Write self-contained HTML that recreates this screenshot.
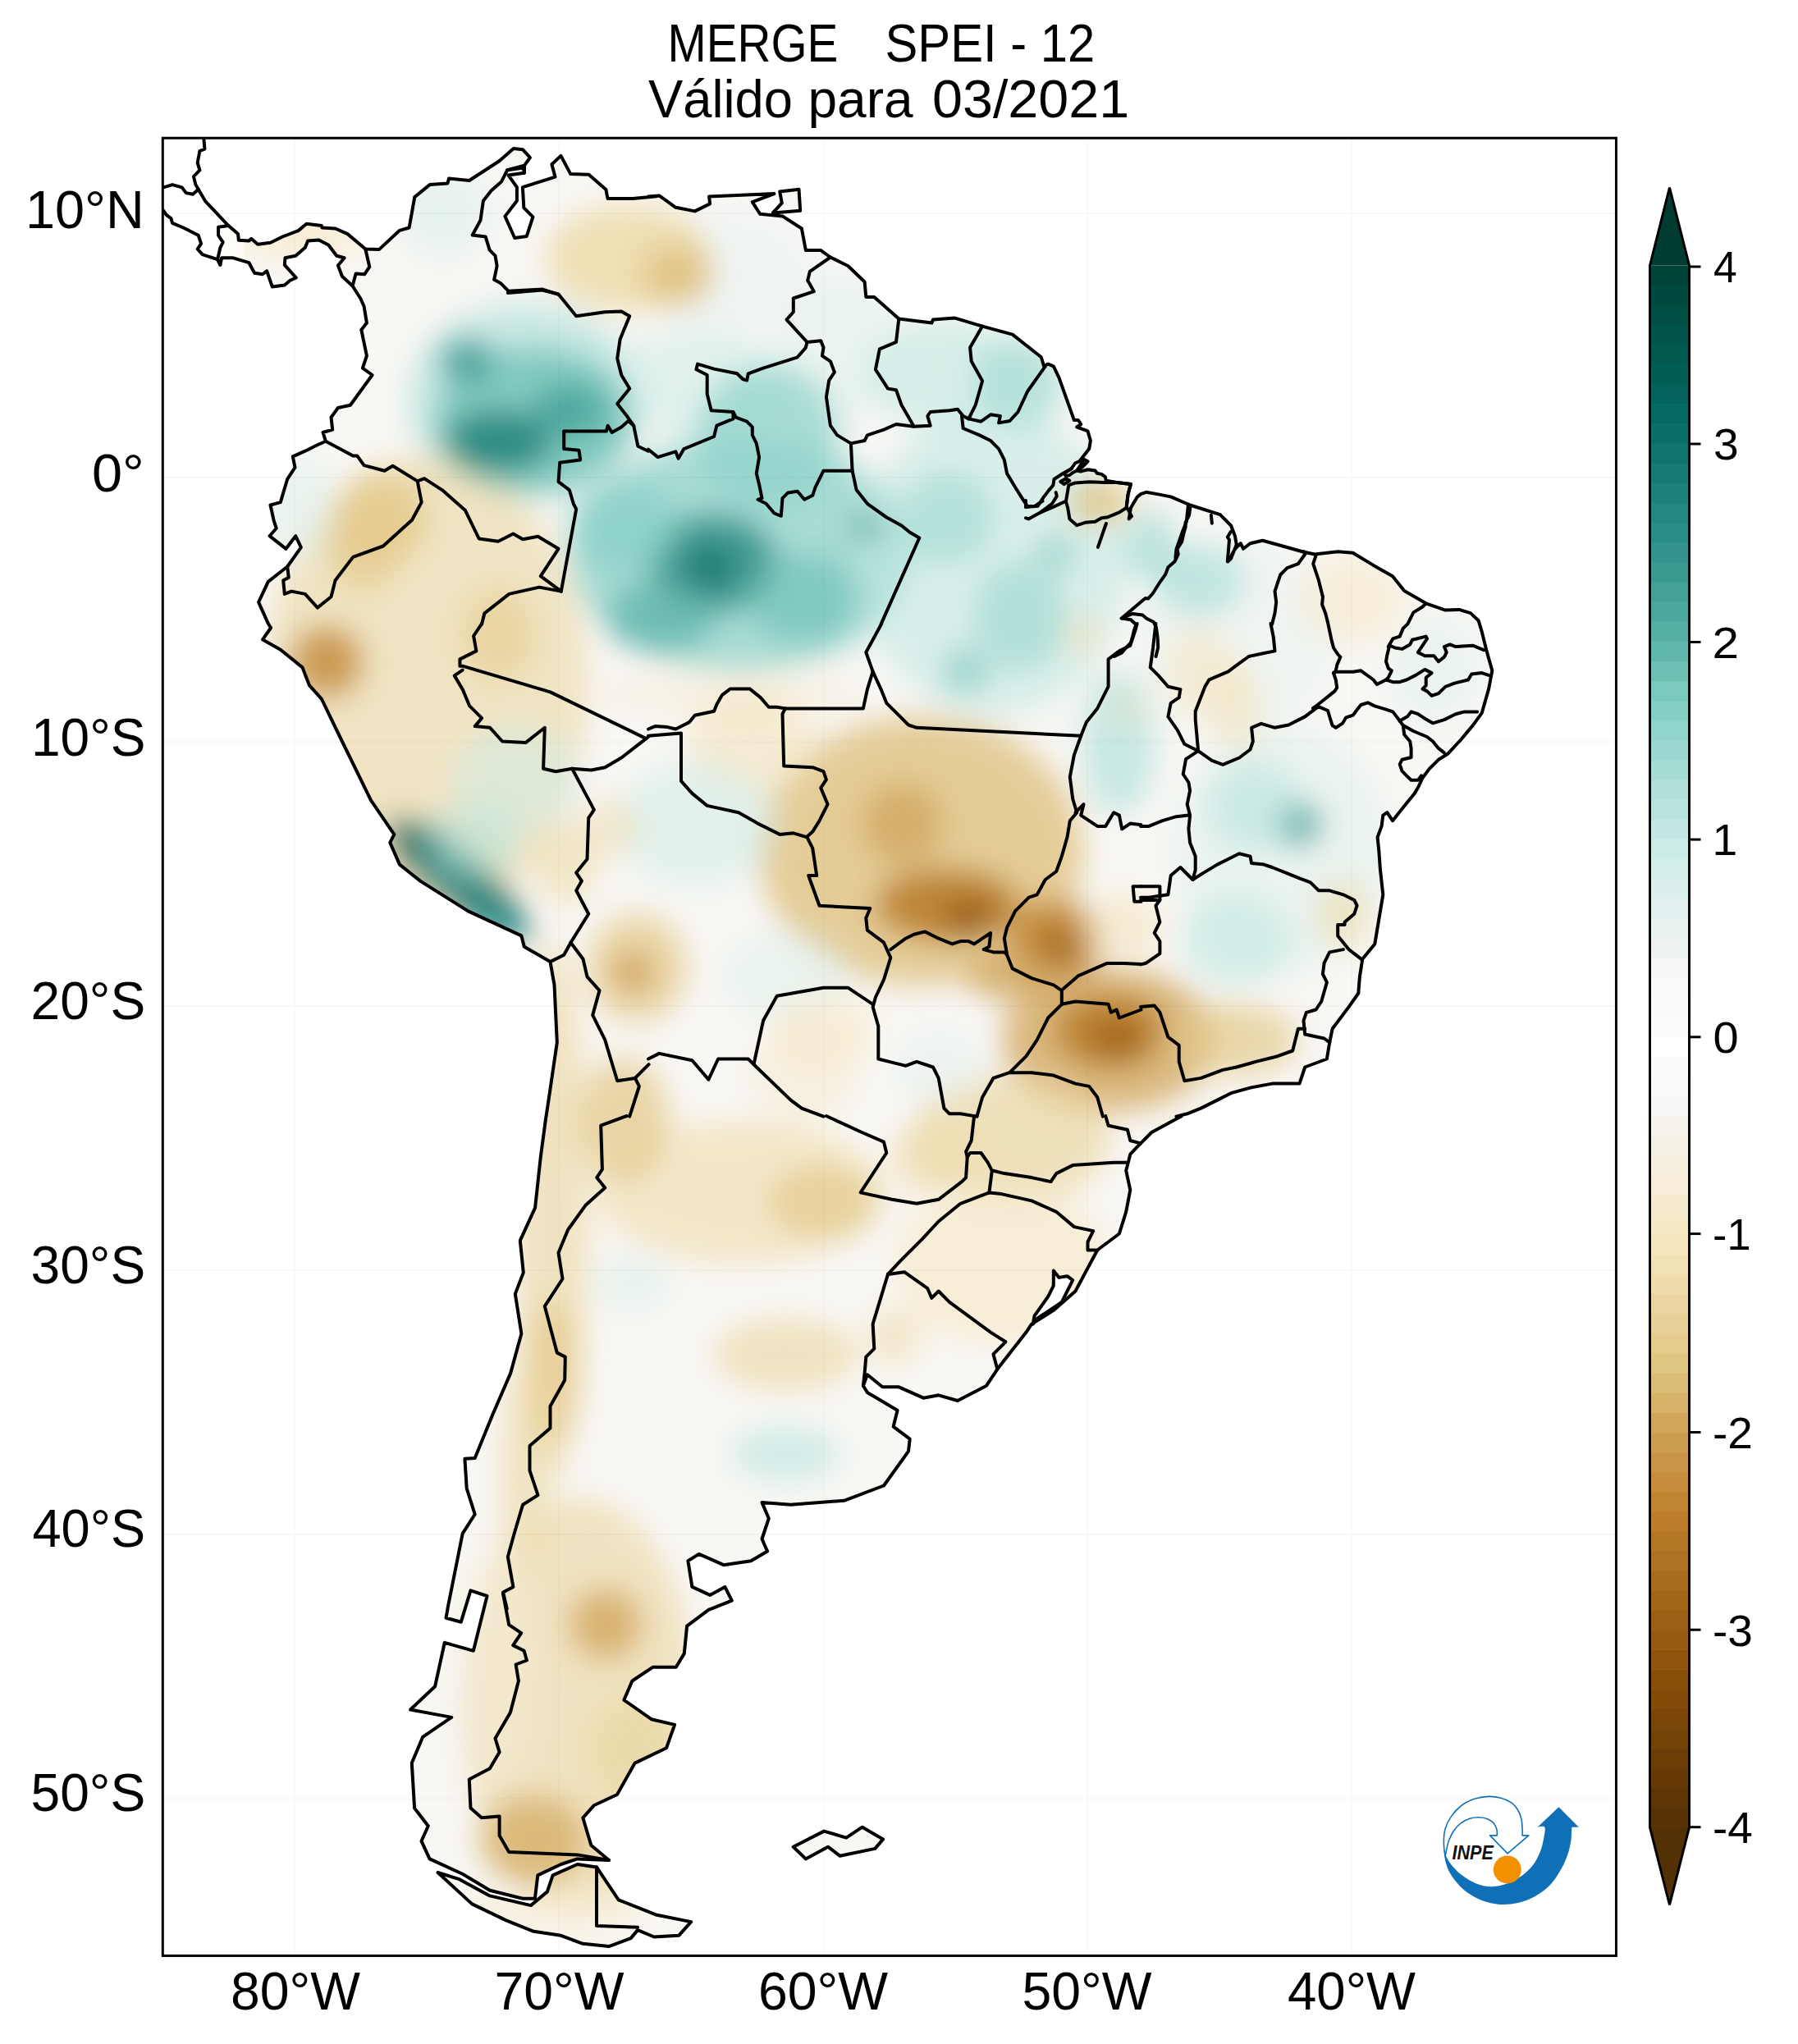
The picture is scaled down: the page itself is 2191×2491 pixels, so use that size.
<!DOCTYPE html><html><head><meta charset="utf-8"><style>
html,body{margin:0;padding:0;background:#fff;}
svg{display:block}
text{font-family:"Liberation Sans",sans-serif;fill:#000}
.ax{font-size:60px}
.ttl{font-size:60px}
.cb{font-size:49px}
.inpe{font-size:24px;font-weight:bold;font-style:italic;fill:#111}
</style></head><body>
<svg width="2191" height="2491" viewBox="0 0 2191 2491">
<defs>
<clipPath id="land"><path d="M197,167 248.4,166.7 248.4,169.3 249.4,181.7 243.4,184 240.7,198.4 243.4,207.4 236,215.1 238.4,225.1 241.7,230.7 250.1,245.1 261.7,257.4 278.4,275.1 290.1,285.1 290.8,292.8 303.4,293.5 306.1,290.8 314.1,297.8 329.5,295.8 344.2,288.5 363.5,281.1 373.5,272.8 391.9,275.1 392.5,277.5 408.6,278.5 423.6,285.1 445.3,303.5 445.3,303.5 461.9,304.1 487,280.8 498.6,277.5 505.3,240.1 523.7,225.1 545.4,223.4 547,217.4 572,220.1 572.2,219.8 608.4,196.2 625.8,180.9 636.9,182.2 645.9,192 639,201.7 639,210.8 619.5,213.5 629.9,228.1 629.9,244.8 615.4,263.6 627.2,290 641.8,287.9 649.4,264.3 638.3,253.2 636.9,228.1 676.5,215.6 672.4,200.3 683.5,189.9 695.3,212.1 717.5,212.8 738.4,230.9 740.5,242 771.1,242 800,239.3 790,239.4 803.3,238.4 823.4,252.8 846.7,257.4 865.1,248.4 864.1,239.4 943.5,236.1 916.8,246.1 926.1,260.8 953.5,263.4 976.9,278.5 981.9,305.1 1000.2,305.1 1011.9,313.5 1033.6,324.2 1053.6,343.5 1055.3,361.9 1065.3,361.9 1095.3,388.6 1135.3,393.6 1137,389.6 1163.7,387.6 1197.1,397.6 1233.8,407.6 1268.8,435.3 1272.1,446.3 1277.2,443.6 1283.8,446.3 1290.5,460.3 1308.9,512 1313.9,512 1317.2,517 1312.2,520.4 1325.5,525.4 1328.9,537 1327.2,547.1 1315.5,562.1 1310.1,564.5 1305.6,571.2 1296.7,576.8 1298.9,580.1 1303.4,579 1307.8,575.7 1312.3,573.4 1316.7,574.5 1325.6,572.3 1334.5,573.4 1336.8,576.8 1342.3,577.9 1346.8,581.2 1347.9,585.7 1361.2,587.9 1377.9,590.1 1374.6,602.4 1372.9,617.9 1379,629.1 1375.7,632.4 1377.9,619 1385.7,605.7 1390,602.1 1396.7,599.8 1410,602.1 1426.7,605.4 1450.1,615.5 1486.8,627.1 1500.1,640.5 1505.1,653.8 1506.8,663.8 1500.1,680.5 1496.8,683.9 1505.1,668.8 1511.8,662.2 1515.1,668.8 1523.5,662.2 1538.5,658.8 1556.8,663.8 1586.9,672.2 1601.9,675.5 1630.2,672.2 1648.6,673.8 1673.6,688.9 1697,702.2 1711.2,720 1737.7,735.3 1761.3,743.6 1778,742.9 1791.9,747.1 1801.6,756.2 1805.8,770.1 1811.3,792.3 1818.3,817.3 1814.1,839.6 1805.8,868.8 1794.7,884.1 1780.8,900.8 1764.1,918.8 1752.9,925.8 1741.8,936.9 1733.5,948 1727.9,960 1723.7,966.9 1710.3,983.6 1697,1000.2 1690.3,990.2 1685.3,993.6 1683.6,1006.9 1678.6,1020.3 1680.3,1036.9 1682,1060.3 1685.3,1090.3 1680.3,1120.4 1675.3,1150.4 1660.3,1168.7 1656.9,1190.4 1655.3,1210.5 1643.6,1227.1 1623.6,1253.8 1620.2,1270.5 1616.9,1290.5 1590.2,1300.5 1583.5,1320.6 1550.2,1320.6 1523.5,1325.6 1500.1,1332.2 1483.4,1340.6 1463.4,1350.6 1446.7,1357.3 1433.4,1360.6 1440.1,1360 1403.3,1380 1390,1393.4 1389.9,1393.4 1377.3,1406.7 1372.2,1426.7 1377.3,1450.1 1372.2,1476.8 1363.9,1503.5 1337.2,1523.5 1310.5,1573.5 1283.8,1596.9 1257.1,1613.6 1250.5,1623.6 1215.4,1668.6 1215.4,1668.6 1202.1,1688.7 1167,1707 1143.7,1700.3 1125.3,1703.7 1095.3,1690.3 1075.3,1690.3 1056.9,1675.3 1051.9,1688.7 1056.9,1697 1093.6,1718.7 1088.6,1738.7 1108.7,1753.7 1107,1768.7 1077,1810.5 1028.6,1828.8 963.5,1833.8 928.5,1831.1 936.8,1850.5 928.5,1875.5 935.1,1890.5 915.1,1902.2 881.8,1907.2 851.7,1893.9 838.4,1902.2 843.4,1933.9 865.1,1943.9 883.4,1933.9 891.8,1950.6 866.7,1960.6 863.8,1961.7 837.1,1981.7 833.8,2015.1 823.8,2031.8 795.4,2031.8 770.4,2048.5 760.4,2071.8 793.7,2095.2 822.1,2101.9 812.1,2130.2 773.7,2148.6 752,2187 723.7,2200.3 710.3,2215.3 720.3,2248.7 742,2267 703.6,2265.4 683.6,2272 655.3,2285.4 651.9,2313.7 636.9,2313.7 596.9,2303.7 563.5,2283.7 523.5,2265.4 513.5,2243.7 521.8,2225.3 505.1,2203.6 501.8,2148.6 515.1,2116.9 550.2,2092.9 500.1,2083.5 530.1,2055.2 541.8,2001.8 576.9,2011.8 593.5,1945 573.5,1938.4 561.8,1976.7 543.5,1971.7 545.5,1960.7 545.4,1960.6 563.7,1868.8 578.7,1845.5 568.7,1813.8 566.4,1777.8 578.7,1777.1 600.4,1723.7 622.1,1673.6 635.4,1625.3 627.8,1576.9 637.8,1550.9 633.8,1511.8 652.1,1471.8 658.8,1410.1 665.5,1360 665.5,1360.6 670.5,1327.2 678.8,1270.5 675.5,1200.4 670.5,1172.1 638.8,1153.7 635.4,1140.4 570.4,1110.4 512,1073.6 487,1053.6 475.3,1026.9 480.3,1016.9 451.9,975.2 416.9,903.5 391.9,851.8 376.9,835.1 368.5,813.4 341.8,791.7 320.1,779.4 330.1,765 326.8,760 326.8,759.9 315.1,733.9 326.8,708.9 350.2,690.5 366.8,667.2 360.2,653.2 348.5,668.8 328.5,653.2 336.8,643.8 333.5,633.8 329.5,615.5 341.8,612.1 350.2,583.8 359.5,569.7 356.8,556.4 371.8,549.7 385.2,543 396.9,537.7 393.5,527 405.2,523.7 403.5,508.7 411.9,497 426.9,493.7 453.6,457 441.9,448.6 446.9,433.6 440.3,401.9 446.9,393.6 443.6,373.5 439.6,364.2 429.6,348.5 416.9,336.8 411.9,323.5 419.6,314.2 410.2,311.8 400.2,298.5 388.5,292.5 375.2,293.5 371.8,301.8 360.2,311.8 347.5,314.2 346.8,322.8 360.8,338.5 353.5,341.8 346.8,347.5 331.8,349.5 325.1,330.2 320.1,334.2 310.1,332.8 303.4,320.2 283.4,314.2 270.1,314.2 268.4,322.8 265.1,316.2 246.7,310.2 240.7,303.5 245.1,296.8 241.7,286.8 223.4,277.5 210,271.8 208.4,266.1 202.7,261.8 199.3,256.8 196.7,256.8 197,257Z M533.5,2282 575.2,2320.4 616.9,2340.4 650.3,2353.8 683.6,2358.8 710.3,2368.8 742,2372.1 768.7,2362.1 777.1,2352.1 797.1,2360.5 827.1,2358.8 842.1,2342.1 800.4,2333.8 753.7,2315.4 727,2275.4 703.6,2272 673.6,2285.4 666.9,2305.4 646.9,2322.1 596.9,2310.4 560.2,2290.4Z M950.2,233.4 973.5,230.7 975.2,256.8 941.8,259.4 952.8,247.4Z M966.7,2250.7 1004.1,2231.6 1031.2,2239.6 1050.8,2226.7 1076.1,2241.4 1066.3,2252.9 1023.6,2261.8 1009,2250.7 981.8,2265.4Z"/></clipPath>
<clipPath id="frame"><rect x="198.5" y="168.5" width="1770" height="2214"/></clipPath>
<filter id="bl" x="-20%" y="-20%" width="140%" height="140%"><feGaussianBlur stdDeviation="18"/></filter>
</defs>
<text x="813.50" y="74.8" font-size="64.2" textLength="207.74" lengthAdjust="spacingAndGlyphs" xml:space="preserve">MERGE</text>
<text x="1078.50" y="74.8" font-size="64.2" textLength="255.64" lengthAdjust="spacingAndGlyphs" xml:space="preserve">SPEI - 12</text>
<text x="790.00" y="142.5" font-size="64.2" textLength="176.05" lengthAdjust="spacingAndGlyphs" xml:space="preserve">Válido</text>
<text x="984.50" y="142.5" font-size="64.2" textLength="128.17" lengthAdjust="spacingAndGlyphs" xml:space="preserve">para</text>
<text x="1136.00" y="142.5" font-size="64.2" textLength="240.16" lengthAdjust="spacingAndGlyphs" xml:space="preserve">03/2021</text>
<text x="31.00" y="277.7" font-size="64.2" textLength="144.74" lengthAdjust="spacingAndGlyphs" xml:space="preserve">10°N</text>
<text x="112.00" y="599.4" font-size="64.2" textLength="63.72" lengthAdjust="spacingAndGlyphs" xml:space="preserve">0°</text>
<text x="38.00" y="920.9" font-size="64.2" textLength="139.46" lengthAdjust="spacingAndGlyphs" xml:space="preserve">10°S</text>
<text x="37.50" y="1242.4" font-size="64.2" textLength="139.81" lengthAdjust="spacingAndGlyphs" xml:space="preserve">20°S</text>
<text x="37.50" y="1563.9" font-size="64.2" textLength="139.76" lengthAdjust="spacingAndGlyphs" xml:space="preserve">30°S</text>
<text x="39.50" y="1885.4" font-size="64.2" textLength="137.64" lengthAdjust="spacingAndGlyphs" xml:space="preserve">40°S</text>
<text x="37.50" y="2206.9" font-size="64.2" textLength="139.76" lengthAdjust="spacingAndGlyphs" xml:space="preserve">50°S</text>
<text x="281.00" y="2448.9" font-size="64.2" textLength="158.06" lengthAdjust="spacingAndGlyphs" xml:space="preserve">80°W</text>
<text x="602.50" y="2448.9" font-size="64.2" textLength="158.09" lengthAdjust="spacingAndGlyphs" xml:space="preserve">70°W</text>
<text x="924.00" y="2448.9" font-size="64.2" textLength="158.06" lengthAdjust="spacingAndGlyphs" xml:space="preserve">60°W</text>
<text x="1245.50" y="2448.9" font-size="64.2" textLength="158.06" lengthAdjust="spacingAndGlyphs" xml:space="preserve">50°W</text>
<text x="1569.00" y="2448.9" font-size="64.2" textLength="156.01" lengthAdjust="spacingAndGlyphs" xml:space="preserve">40°W</text>
<text x="2088.00" y="344.3" font-size="53.2" textLength="28.75" lengthAdjust="spacingAndGlyphs" xml:space="preserve">4</text>
<text x="2088.00" y="560.3" font-size="53.2" textLength="30.73" lengthAdjust="spacingAndGlyphs" xml:space="preserve">3</text>
<text x="2086.50" y="801.8" font-size="53.2" textLength="32.55" lengthAdjust="spacingAndGlyphs" xml:space="preserve">2</text>
<text x="2086.50" y="1042.4" font-size="53.2" textLength="30.72" lengthAdjust="spacingAndGlyphs" xml:space="preserve">1</text>
<text x="2087.50" y="1283.1" font-size="53.2" textLength="31.13" lengthAdjust="spacingAndGlyphs" xml:space="preserve">0</text>
<text x="2087.00" y="1522.9" font-size="53.2" textLength="46.42" lengthAdjust="spacingAndGlyphs" xml:space="preserve">-1</text>
<text x="2087.00" y="1764.8" font-size="53.2" textLength="48.96" lengthAdjust="spacingAndGlyphs" xml:space="preserve">-2</text>
<text x="2087.00" y="2005.5" font-size="53.2" textLength="48.96" lengthAdjust="spacingAndGlyphs" xml:space="preserve">-3</text>
<text x="2087.00" y="2246.0" font-size="53.2" textLength="48.85" lengthAdjust="spacingAndGlyphs" xml:space="preserve">-4</text>
<g clip-path="url(#frame)">
<g clip-path="url(#land)">
<rect x="297" y="168" width="1672" height="2215" fill="#f8f7f4"/>
<g filter="url(#bl)">
<ellipse cx="639.4" cy="488.9" rx="142.5" ry="120.6" fill="#acdfd8" fill-opacity="0.6"/>
<ellipse cx="891.6" cy="335.4" rx="98.7" ry="76.7" fill="#e8f2f1" fill-opacity="0.5"/>
<ellipse cx="847.7" cy="466.9" rx="109.6" ry="65.8" fill="#cfece8" fill-opacity="0.55"/>
<ellipse cx="1023.1" cy="423.1" rx="76.7" ry="87.7" fill="#dcefec" fill-opacity="0.5"/>
<ellipse cx="1154.7" cy="456.0" rx="98.7" ry="65.8" fill="#c0e7e1" fill-opacity="0.6"/>
<ellipse cx="935.4" cy="532.7" rx="87.7" ry="87.7" fill="#8fd3c9" fill-opacity="0.75"/>
<ellipse cx="902.5" cy="675.2" rx="208.3" ry="142.5" fill="#8fd3c9" fill-opacity="0.75"/>
<ellipse cx="1209.5" cy="686.2" rx="164.4" ry="186.4" fill="#c0e7e1" fill-opacity="0.55"/>
<ellipse cx="1242.4" cy="466.9" rx="54.8" ry="54.8" fill="#a3dbd3" fill-opacity="0.7"/>
<ellipse cx="518.9" cy="839.6" rx="197.3" ry="285.0" fill="#ead59f" fill-opacity="0.58"/>
<ellipse cx="1121.8" cy="1037.0" rx="197.3" ry="164.4" fill="#ddbe78" fill-opacity="0.75"/>
<ellipse cx="1352.0" cy="1267.2" rx="131.5" ry="87.7" fill="#d0a357" fill-opacity="0.75"/>
<ellipse cx="1231.4" cy="1387.7" rx="120.6" ry="76.7" fill="#ead59f" fill-opacity="0.7"/>
<ellipse cx="1220.4" cy="1541.2" rx="131.5" ry="98.7" fill="#f6e8c5" fill-opacity="0.6"/>
<ellipse cx="672.3" cy="1475.4" rx="43.8" ry="328.9" fill="#eddaa9" fill-opacity="0.7"/>
<ellipse cx="902.5" cy="1453.5" rx="175.4" ry="87.7" fill="#f1dfb2" fill-opacity="0.65"/>
<ellipse cx="705.2" cy="2078.4" rx="142.5" ry="252.1" fill="#eddaa9" fill-opacity="0.7"/>
<ellipse cx="1560.2" cy="1037.0" rx="131.5" ry="153.5" fill="#dcefec" fill-opacity="0.5"/>
<ellipse cx="1505.4" cy="773.9" rx="120.6" ry="120.6" fill="#e2f0ee" fill-opacity="0.4"/>
<ellipse cx="650.4" cy="510.8" rx="120.6" ry="87.7" fill="#71c2b7" fill-opacity="0.8"/>
<ellipse cx="606.6" cy="538.2" rx="65.8" ry="38.4" fill="#1e827a" fill-opacity="0.85"/>
<ellipse cx="568.2" cy="439.5" rx="32.9" ry="27.4" fill="#34968e" fill-opacity="0.8"/>
<ellipse cx="694.3" cy="499.8" rx="43.8" ry="32.9" fill="#3d9d95" fill-opacity="0.75"/>
<ellipse cx="540.8" cy="258.7" rx="54.8" ry="54.8" fill="#d5edea" fill-opacity="0.5"/>
<ellipse cx="765.5" cy="314.6" rx="99.8" ry="64.7" fill="#eddaa9" fill-opacity="0.85"/>
<ellipse cx="825.8" cy="335.4" rx="43.8" ry="38.4" fill="#ddbe78" fill-opacity="0.75"/>
<ellipse cx="365.4" cy="286.1" rx="76.7" ry="27.4" fill="#f6e8c5" fill-opacity="0.7"/>
<ellipse cx="869.6" cy="686.2" rx="76.7" ry="60.3" fill="#2d8f87" fill-opacity="0.85"/>
<ellipse cx="864.2" cy="691.7" rx="27.4" ry="21.9" fill="#02675f" fill-opacity="0.8"/>
<ellipse cx="803.9" cy="751.9" rx="65.8" ry="43.8" fill="#5cb3a9" fill-opacity="0.75"/>
<ellipse cx="1056.0" cy="642.3" rx="16.4" ry="13.2" fill="#1e827a" fill-opacity="0.8"/>
<ellipse cx="979.3" cy="730.0" rx="65.8" ry="54.8" fill="#71c2b7" fill-opacity="0.7"/>
<ellipse cx="760.0" cy="642.3" rx="65.8" ry="54.8" fill="#85cfc4" fill-opacity="0.7"/>
<ellipse cx="606.6" cy="773.9" rx="43.8" ry="54.8" fill="#e7cf95" fill-opacity="0.75"/>
<ellipse cx="891.6" cy="845.1" rx="164.4" ry="27.4" fill="#f6ecd3" fill-opacity="0.5"/>
<ellipse cx="1242.4" cy="751.9" rx="54.8" ry="65.8" fill="#8fd3c9" fill-opacity="0.55"/>
<ellipse cx="1176.6" cy="817.7" rx="27.4" ry="27.4" fill="#71c2b7" fill-opacity="0.6"/>
<ellipse cx="1286.2" cy="675.2" rx="21.9" ry="21.9" fill="#71c2b7" fill-opacity="0.6"/>
<ellipse cx="1154.7" cy="631.4" rx="54.8" ry="54.8" fill="#99d7ce" fill-opacity="0.6"/>
<ellipse cx="1319.1" cy="773.9" rx="21.9" ry="21.9" fill="#f1dfb2" fill-opacity="0.7"/>
<ellipse cx="1339.9" cy="611.6" rx="38.4" ry="25.2" fill="#e1c582" fill-opacity="0.9"/>
<ellipse cx="1461.6" cy="708.1" rx="54.8" ry="43.8" fill="#acdfd8" fill-opacity="0.7"/>
<ellipse cx="1461.6" cy="817.7" rx="43.8" ry="54.8" fill="#f6e8c5" fill-opacity="0.6"/>
<ellipse cx="1505.4" cy="861.6" rx="32.9" ry="54.8" fill="#f4e4bc" fill-opacity="0.6"/>
<ellipse cx="1362.9" cy="905.4" rx="43.8" ry="87.7" fill="#acdfd8" fill-opacity="0.65"/>
<ellipse cx="1373.9" cy="861.6" rx="16.4" ry="16.4" fill="#eddaa9" fill-opacity="0.6"/>
<ellipse cx="1647.9" cy="730.0" rx="65.8" ry="54.8" fill="#f6e8c5" fill-opacity="0.55"/>
<ellipse cx="1401.3" cy="664.3" rx="32.9" ry="43.8" fill="#99d7ce" fill-opacity="0.6"/>
<ellipse cx="1746.6" cy="817.7" rx="54.8" ry="65.8" fill="#dcefec" fill-opacity="0.5"/>
<ellipse cx="1582.2" cy="1004.1" rx="27.4" ry="27.4" fill="#3d9d95" fill-opacity="0.8"/>
<ellipse cx="1527.4" cy="982.2" rx="54.8" ry="54.8" fill="#b6e3dc" fill-opacity="0.6"/>
<ellipse cx="1637.0" cy="1113.7" rx="32.9" ry="43.8" fill="#eddaa9" fill-opacity="0.6"/>
<ellipse cx="1505.4" cy="1146.6" rx="65.8" ry="54.8" fill="#c0e7e1" fill-opacity="0.6"/>
<ellipse cx="1099.8" cy="1004.1" rx="49.3" ry="49.3" fill="#d0a357" fill-opacity="0.7"/>
<ellipse cx="1154.7" cy="1102.7" rx="87.7" ry="43.8" fill="#b77927" fill-opacity="0.85"/>
<ellipse cx="1182.1" cy="1119.2" rx="32.9" ry="21.9" fill="#8d520a" fill-opacity="0.75"/>
<ellipse cx="1286.2" cy="1146.6" rx="54.8" ry="49.3" fill="#be802c" fill-opacity="0.85"/>
<ellipse cx="1291.7" cy="1152.1" rx="21.9" ry="16.4" fill="#854d09" fill-opacity="0.75"/>
<ellipse cx="1231.4" cy="1190.4" rx="54.8" ry="27.4" fill="#d0a357" fill-opacity="0.8"/>
<ellipse cx="1352.0" cy="1256.2" rx="65.8" ry="43.8" fill="#b77927" fill-opacity="0.85"/>
<ellipse cx="1362.9" cy="1267.2" rx="27.4" ry="21.9" fill="#94580f" fill-opacity="0.75"/>
<ellipse cx="1505.4" cy="1267.2" rx="76.7" ry="43.8" fill="#e4ca8c" fill-opacity="0.7"/>
<ellipse cx="913.5" cy="905.4" rx="76.7" ry="65.8" fill="#f4e4bc" fill-opacity="0.6"/>
<ellipse cx="1143.7" cy="1300.0" rx="54.8" ry="43.8" fill="#e2f0ee" fill-opacity="0.5"/>
<ellipse cx="1369.5" cy="1130.1" rx="49.3" ry="43.8" fill="#f4e4bc" fill-opacity="0.55"/>
<ellipse cx="847.7" cy="1004.1" rx="98.7" ry="76.7" fill="#cfece8" fill-opacity="0.55"/>
<ellipse cx="740.3" cy="1008.5" rx="38.4" ry="38.4" fill="#f1dfb2" fill-opacity="0.55"/>
<ellipse cx="776.5" cy="1179.5" rx="60.3" ry="65.8" fill="#e4ca8c" fill-opacity="0.75"/>
<ellipse cx="771.0" cy="1184.9" rx="21.9" ry="21.9" fill="#c38836" fill-opacity="0.75"/>
<ellipse cx="957.3" cy="1190.4" rx="76.7" ry="54.8" fill="#dcefec" fill-opacity="0.5"/>
<ellipse cx="1001.2" cy="1256.2" rx="65.8" ry="43.8" fill="#f6e8c5" fill-opacity="0.6"/>
<ellipse cx="398.3" cy="806.8" rx="43.8" ry="43.8" fill="#c38836" fill-opacity="0.8"/>
<ellipse cx="464.1" cy="631.4" rx="54.8" ry="54.8" fill="#e1c582" fill-opacity="0.75"/>
<ellipse cx="628.5" cy="949.3" rx="76.7" ry="65.8" fill="#cfece8" fill-opacity="0.55"/>
<ellipse cx="557.2" cy="1072.0" rx="109.6" ry="32.9" fill="#177b73" fill-opacity="0.9" transform="rotate(40 557.2 1072.0)"/>
<ellipse cx="513.4" cy="1031.5" rx="30.7" ry="26.3" fill="#016158" fill-opacity="0.85"/>
<ellipse cx="612.0" cy="1119.2" rx="43.8" ry="17.5" fill="#258880" fill-opacity="0.8" transform="rotate(40 612.0 1119.2)"/>
<ellipse cx="573.7" cy="1026.0" rx="60.3" ry="43.8" fill="#b6e3dc" fill-opacity="0.55"/>
<ellipse cx="688.8" cy="1053.4" rx="38.4" ry="49.3" fill="#eddaa9" fill-opacity="0.6"/>
<ellipse cx="365.4" cy="620.4" rx="43.8" ry="65.8" fill="#dcefec" fill-opacity="0.5"/>
<ellipse cx="442.1" cy="664.3" rx="43.8" ry="54.8" fill="#e4ca8c" fill-opacity="0.75"/>
<ellipse cx="760.0" cy="1365.8" rx="54.8" ry="76.7" fill="#e4ca8c" fill-opacity="0.75"/>
<ellipse cx="1001.2" cy="1464.5" rx="65.8" ry="43.8" fill="#e4ca8c" fill-opacity="0.75"/>
<ellipse cx="1132.7" cy="1409.7" rx="43.8" ry="43.8" fill="#eddaa9" fill-opacity="0.7"/>
<ellipse cx="771.0" cy="1563.1" rx="43.8" ry="32.9" fill="#d5edea" fill-opacity="0.5"/>
<ellipse cx="957.3" cy="1650.8" rx="87.7" ry="43.8" fill="#eddaa9" fill-opacity="0.7"/>
<ellipse cx="957.3" cy="1771.4" rx="65.8" ry="32.9" fill="#c0e7e1" fill-opacity="0.7"/>
<ellipse cx="1088.9" cy="1628.9" rx="32.9" ry="32.9" fill="#eddaa9" fill-opacity="0.6"/>
<ellipse cx="672.3" cy="1672.8" rx="32.9" ry="87.7" fill="#e4ca8c" fill-opacity="0.75"/>
<ellipse cx="639.4" cy="1793.3" rx="27.4" ry="131.5" fill="#eddaa9" fill-opacity="0.7"/>
<ellipse cx="606.6" cy="2023.5" rx="43.8" ry="164.4" fill="#f6eeda" fill-opacity="0.5"/>
<ellipse cx="738.1" cy="1979.7" rx="43.8" ry="43.8" fill="#d0a357" fill-opacity="0.75"/>
<ellipse cx="650.4" cy="2242.8" rx="65.8" ry="54.8" fill="#d4ac62" fill-opacity="0.75"/>
<ellipse cx="771.0" cy="2133.2" rx="54.8" ry="65.8" fill="#ead59f" fill-opacity="0.6"/>
<ellipse cx="672.3" cy="2330.5" rx="120.6" ry="27.4" fill="#f6ecd3" fill-opacity="0.6"/>
<ellipse cx="979.3" cy="1311.0" rx="65.8" ry="54.8" fill="#f6eacc" fill-opacity="0.5"/>
</g>
</g>
<path d="M1283.8,1548.5 1290.5,1556.9 1300.5,1555.2 1307.2,1560.2 1293.8,1586.9 1283.8,1593.6 1263.8,1606.9 1258.8,1613.6 1260.5,1603.6 1277.2,1580.2 1283.8,1566.9Z" fill="#fff"/>
<g fill="none" stroke="#000" stroke-width="4" stroke-linejoin="round" stroke-linecap="round">
<path d="M197,167 248.4,166.7 248.4,169.3 249.4,181.7 243.4,184 240.7,198.4 243.4,207.4 236,215.1 238.4,225.1 241.7,230.7 250.1,245.1 261.7,257.4 278.4,275.1 290.1,285.1 290.8,292.8 303.4,293.5 306.1,290.8 314.1,297.8 329.5,295.8 344.2,288.5 363.5,281.1 373.5,272.8 391.9,275.1 392.5,277.5 408.6,278.5 423.6,285.1 445.3,303.5 445.3,303.5 461.9,304.1 487,280.8 498.6,277.5 505.3,240.1 523.7,225.1 545.4,223.4 547,217.4 572,220.1 572.2,219.8 608.4,196.2 625.8,180.9 636.9,182.2 645.9,192 639,201.7 639,210.8 619.5,213.5 629.9,228.1 629.9,244.8 615.4,263.6 627.2,290 641.8,287.9 649.4,264.3 638.3,253.2 636.9,228.1 676.5,215.6 672.4,200.3 683.5,189.9 695.3,212.1 717.5,212.8 738.4,230.9 740.5,242 771.1,242 800,239.3 790,239.4 803.3,238.4 823.4,252.8 846.7,257.4 865.1,248.4 864.1,239.4 943.5,236.1 916.8,246.1 926.1,260.8 953.5,263.4 976.9,278.5 981.9,305.1 1000.2,305.1 1011.9,313.5 1033.6,324.2 1053.6,343.5 1055.3,361.9 1065.3,361.9 1095.3,388.6 1135.3,393.6 1137,389.6 1163.7,387.6 1197.1,397.6 1233.8,407.6 1268.8,435.3 1272.1,446.3 1277.2,443.6 1283.8,446.3 1290.5,460.3 1308.9,512 1313.9,512 1317.2,517 1312.2,520.4 1325.5,525.4 1328.9,537 1327.2,547.1 1315.5,562.1 1310.1,564.5 1305.6,571.2 1296.7,576.8 1298.9,580.1 1303.4,579 1307.8,575.7 1312.3,573.4 1316.7,574.5 1325.6,572.3 1334.5,573.4 1336.8,576.8 1342.3,577.9 1346.8,581.2 1347.9,585.7 1361.2,587.9 1377.9,590.1 1374.6,602.4 1372.9,617.9 1379,629.1 1375.7,632.4 1377.9,619 1385.7,605.7 1390,602.1 1396.7,599.8 1410,602.1 1426.7,605.4 1450.1,615.5 1486.8,627.1 1500.1,640.5 1505.1,653.8 1506.8,663.8 1500.1,680.5 1496.8,683.9 1505.1,668.8 1511.8,662.2 1515.1,668.8 1523.5,662.2 1538.5,658.8 1556.8,663.8 1586.9,672.2 1601.9,675.5 1630.2,672.2 1648.6,673.8 1673.6,688.9 1697,702.2 1711.2,720 1737.7,735.3 1761.3,743.6 1778,742.9 1791.9,747.1 1801.6,756.2 1805.8,770.1 1811.3,792.3 1818.3,817.3 1814.1,839.6 1805.8,868.8 1794.7,884.1 1780.8,900.8 1764.1,918.8 1752.9,925.8 1741.8,936.9 1733.5,948 1727.9,960 1723.7,966.9 1710.3,983.6 1697,1000.2 1690.3,990.2 1685.3,993.6 1683.6,1006.9 1678.6,1020.3 1680.3,1036.9 1682,1060.3 1685.3,1090.3 1680.3,1120.4 1675.3,1150.4 1660.3,1168.7 1656.9,1190.4 1655.3,1210.5 1643.6,1227.1 1623.6,1253.8 1620.2,1270.5 1616.9,1290.5 1590.2,1300.5 1583.5,1320.6 1550.2,1320.6 1523.5,1325.6 1500.1,1332.2 1483.4,1340.6 1463.4,1350.6 1446.7,1357.3 1433.4,1360.6 1440.1,1360 1403.3,1380 1390,1393.4 1389.9,1393.4 1377.3,1406.7 1372.2,1426.7 1377.3,1450.1 1372.2,1476.8 1363.9,1503.5 1337.2,1523.5 1310.5,1573.5 1283.8,1596.9 1257.1,1613.6 1250.5,1623.6 1215.4,1668.6 1215.4,1668.6 1202.1,1688.7 1167,1707 1143.7,1700.3 1125.3,1703.7 1095.3,1690.3 1075.3,1690.3 1056.9,1675.3 1051.9,1688.7 1056.9,1697 1093.6,1718.7 1088.6,1738.7 1108.7,1753.7 1107,1768.7 1077,1810.5 1028.6,1828.8 963.5,1833.8 928.5,1831.1 936.8,1850.5 928.5,1875.5 935.1,1890.5 915.1,1902.2 881.8,1907.2 851.7,1893.9 838.4,1902.2 843.4,1933.9 865.1,1943.9 883.4,1933.9 891.8,1950.6 866.7,1960.6 863.8,1961.7 837.1,1981.7 833.8,2015.1 823.8,2031.8 795.4,2031.8 770.4,2048.5 760.4,2071.8 793.7,2095.2 822.1,2101.9 812.1,2130.2 773.7,2148.6 752,2187 723.7,2200.3 710.3,2215.3 720.3,2248.7 742,2267 703.6,2265.4 683.6,2272 655.3,2285.4 651.9,2313.7 636.9,2313.7 596.9,2303.7 563.5,2283.7 523.5,2265.4 513.5,2243.7 521.8,2225.3 505.1,2203.6 501.8,2148.6 515.1,2116.9 550.2,2092.9 500.1,2083.5 530.1,2055.2 541.8,2001.8 576.9,2011.8 593.5,1945 573.5,1938.4 561.8,1976.7 543.5,1971.7 545.5,1960.7 545.4,1960.6 563.7,1868.8 578.7,1845.5 568.7,1813.8 566.4,1777.8 578.7,1777.1 600.4,1723.7 622.1,1673.6 635.4,1625.3 627.8,1576.9 637.8,1550.9 633.8,1511.8 652.1,1471.8 658.8,1410.1 665.5,1360 665.5,1360.6 670.5,1327.2 678.8,1270.5 675.5,1200.4 670.5,1172.1 638.8,1153.7 635.4,1140.4 570.4,1110.4 512,1073.6 487,1053.6 475.3,1026.9 480.3,1016.9 451.9,975.2 416.9,903.5 391.9,851.8 376.9,835.1 368.5,813.4 341.8,791.7 320.1,779.4 330.1,765 326.8,760 326.8,759.9 315.1,733.9 326.8,708.9 350.2,690.5 366.8,667.2 360.2,653.2 348.5,668.8 328.5,653.2 336.8,643.8 333.5,633.8 329.5,615.5 341.8,612.1 350.2,583.8 359.5,569.7 356.8,556.4 371.8,549.7 385.2,543 396.9,537.7 393.5,527 405.2,523.7 403.5,508.7 411.9,497 426.9,493.7 453.6,457 441.9,448.6 446.9,433.6 440.3,401.9 446.9,393.6 443.6,373.5 439.6,364.2 429.6,348.5 416.9,336.8 411.9,323.5 419.6,314.2 410.2,311.8 400.2,298.5 388.5,292.5 375.2,293.5 371.8,301.8 360.2,311.8 347.5,314.2 346.8,322.8 360.8,338.5 353.5,341.8 346.8,347.5 331.8,349.5 325.1,330.2 320.1,334.2 310.1,332.8 303.4,320.2 283.4,314.2 270.1,314.2 268.4,322.8 265.1,316.2 246.7,310.2 240.7,303.5 245.1,296.8 241.7,286.8 223.4,277.5 210,271.8 208.4,266.1 202.7,261.8 199.3,256.8 196.7,256.8 197,257 197,167"/>
<path d="M533.5,2282 575.2,2320.4 616.9,2340.4 650.3,2353.8 683.6,2358.8 710.3,2368.8 742,2372.1 768.7,2362.1 777.1,2352.1 797.1,2360.5 827.1,2358.8 842.1,2342.1 800.4,2333.8 753.7,2315.4 727,2275.4 703.6,2272 673.6,2285.4 666.9,2305.4 646.9,2322.1 596.9,2310.4 560.2,2290.4 533.5,2282"/>
<path d="M639,201.7 618.1,207.3 637.6,204.5 639,210.8"/>
<path d="M618.1,207.3 611.2,221.2 598.7,232.3 588.9,244.8 585.5,268.5 575.7,286.5 591.7,288.6 596.6,304.6 603.5,311.6 605.6,324.1 602.1,340.8 609.8,344.9 619.5,354.7 661.2,352.6 680.7,358.8"/>
<path d="M618.8,356.9 660.5,353.5 680.5,358.5 702.2,385.2 737.2,380.2 757.2,379.6 767.2,385.2 755.6,413.6 752.2,436.9 757.2,457 767.2,473.6 752.2,492 763.9,507 772.2,518.7 777.3,543.7 789.9,549.7"/>
<path d="M687.2,525.4 738.9,525.4 740.6,518.7 745.6,527 757.2,520.4 765.6,513 772.2,518.7"/>
<path d="M199.3,228.4 210,225.1 221.7,228.4 226.7,235.1 235,236.7 241.7,230.7"/>
<path d="M278.4,275.1 266.1,276.8 266.1,286.8 271.7,295.1 268.4,301.8 265.1,316.2 268.4,322.8"/>
<path d="M445.3,303.5 450.3,325.2 444.3,334.2 433.6,333.5 429.6,348.5"/>
<path d="M396.9,537.7 430.2,555.4 435.2,555.4 443.6,567.1 468.6,573.7 478.6,567.7 508.7,586.4"/>
<path d="M508.7,586.4 517,583.1 538.7,597.1 567,622.1 583.7,656.5 607.1,659.8 625.4,650.5 637.1,657.2 655.5,653.8 680.5,668.8 658.8,702.2 683.8,720.6"/>
<path d="M508.7,586.4 513.7,612.1 502,633.8 466.9,665.5 430.2,678.9 408.6,707.2 403.5,727.2 386.9,740.6 371.8,723.9 355.2,720.6 346.8,723.9 345.2,707.2 351.8,703.9 350.2,690.5"/>
<path d="M687.2,525.4 687.2,547.1 705.5,548.7 707.2,560.4 682.2,563.7 680.5,587.1 693.8,597.1 698.8,613.8 702.2,620.5 683.8,720.6"/>
<path d="M683.8,720.6 657.1,715.6 620.4,723.9 590.4,747.3 587.1,760.6"/>
<path d="M1377.9,590.1 1361.2,587.9 1345.7,587.9 1327.9,587.3 1310.1,588.5 1302.3,591.2 1298.9,611.3 1301.2,619 1303.4,632.4 1312.3,640.2 1322.3,636.8 1334.5,635.7 1342.3,631.3 1350.1,630.2 1363.5,624.6 1372.4,619 1374.6,602.4 1377.9,590.1"/>
<path d="M1347.9,638 1337.9,666.9"/>
<path d="M1305.6,571.2 1295.6,576.8 1284.5,584 1283.4,591.2 1277.8,597.9 1271.1,606.8 1264.5,616.8 1250,617.9"/>
<path d="M1250,610.1 1250,617.9"/>
<path d="M1286.7,600.1 1287.8,604.6 1282.3,613.5 1267.8,624.6 1253.3,632.4 1250,631.3"/>
<path d="M1297.8,611.3 1283.4,617.9 1267.8,624.6"/>
<path d="M1292.3,586.8 1298.9,583.4 1303.4,585.7 1296.7,590.1 1292.3,586.8"/>
<path d="M1312.3,573.4 1321.2,560.1 1325.6,562.3 1319,569 1312.3,573.4"/>
<path d="M1448,614.6 1445.8,635.7 1441.3,646.9 1433.5,669.1 1432.4,680"/>
<path d="M1011.9,313.5 986.9,330.8 984.2,341.8 991.9,355.2 966.8,363.5 966.8,380.2 958.5,389.6 983.5,416.9"/>
<path d="M983.5,416.9 981.9,423.6 971.8,435.3 930.1,448.6 911.8,455.3 910.1,463.6 905.1,462 898.4,455.3 870.1,449.6 850.1,443.6 848.4,450.3 861.7,457 861.7,480.3 866.7,500.3 893.4,502 893.4,510.4 873.4,518.7 870.1,532 833.4,547.1 826.7,558.7 823.4,550.4 801.7,557.1 790,547.7"/>
<path d="M983.5,416.9 1000.2,415.3 1003.5,423.6 1001.9,433.6 1011.9,440.3 1016.9,453.6 1010.2,463.6 1006.9,483.7 1010.2,507 1011.9,518.7 1020.2,530.4 1036.9,540.4"/>
<path d="M1036.9,540.4 1053.6,537 1056.9,530.4 1077,523.7 1092,517 1113.7,519.7 1133.7,518.7 1130.3,507 1133.7,502 1157,500.3 1167,498.7 1173.7,507 1180.4,510.4 1195.4,513.7 1207.1,505.3 1218.8,507 1217.1,515.4 1230.4,513 1240.5,502 1252.1,477 1273.8,446.3"/>
<path d="M1095.3,388.6 1092,416.9 1071.9,425.3 1066.9,450.3 1082,473.6 1092,475.3 1098.6,493.7 1113.7,519.7"/>
<path d="M1197.1,397.6 1182.1,423.6 1183.7,440.3 1197.1,464.3 1188.7,493.7 1180.4,510.4"/>
<path d="M1172,507 1173.7,522 1193.7,530.4 1207.1,537 1217.1,547.1 1223.8,560.4 1227.1,577.1 1237.1,593.8 1245.5,607.1 1252.1,617.1 1260.5,617.1 1270.5,610.5"/>
<path d="M893.4,502 896.8,508.7 910.1,513.7 916.8,520.4 916.8,530.4 921.8,540.4 925.1,557.1 921.8,577.1 925.1,590.4 928.5,607.1 923.5,608.8 933.5,613.8 943.5,625.5 951.8,628.8 953.5,607.1 960.2,600.4 971.8,598.8 980.2,608.8 990.2,603.8 993.5,593.8 1003.5,573.7 1038.6,573.7"/>
<path d="M1036.9,540.4 1038.6,573.7"/>
<path d="M1038.6,573.7 1043.6,597.1 1056.9,613.8 1080.3,630.5 1098.6,640.5 1108.7,648.8 1120.3,655.5 1073.6,760.6"/>
<path d="M1588.5,672.2 1590.2,675.5 1581.9,687.2 1568.5,692.2 1560.2,700.5 1553.5,720.6 1555.2,733.9 1553.5,747.3 1550.2,760.6"/>
<path d="M587.1,760 577.1,775 580.4,793.4 560.4,803.4 560.4,811.7 563.7,811.7 670.5,843.4 787.3,900.1"/>
<path d="M563.7,816.7 553.7,823.4 563.7,840.1 572,860.1 587.1,875.1 578.7,885.1 597.1,886.8 612.1,903.5 640.5,905.1 663.8,886.8 662.1,936.8 677.2,940.2 697.2,936.8"/>
<path d="M697.2,936.8 720.5,938.5 737.2,935.2 757.2,923.5 787.3,900.1 790.6,897.5"/>
<path d="M697.2,936.8 723.9,986.9 717.2,996.9 715.5,1047 702.2,1063.6 708.9,1073.6 702.2,1085.3 717.2,1113.7 695.5,1148.7 687.2,1163.7 670.5,1172.1"/>
<path d="M695.5,1148.7 710.5,1168.7 715.5,1190.4 730.5,1207.1 722.2,1237.1 737.2,1267.2 752.2,1317.2 773.9,1313.9 790.6,1297.2"/>
<path d="M773.9,1313.9 778.9,1323.9 767.2,1360.6"/>
<path d="M1074.3,760 1055.3,795 1063.6,818.4 1056.9,840.1 1051.9,863.4 956.8,863.4"/>
<path d="M1063.6,818.4 1073.6,840.1 1080.3,856.8 1097,873.4 1107,883.5 1117,886.8 1317.2,896.8"/>
<path d="M790,888.5 798.3,885.1 813.4,886.1 823.4,888.5 840.1,880.1 846.7,871.8 870.1,866.8 873.4,858.4 880.1,846.8 890.1,839.4 913.5,839.4 926.8,850.1 936.8,861.8 946.8,861.8 956.8,863.4"/>
<path d="M956.8,863.4 953.5,870.1 955.2,933.5 990.2,935.2 1003.5,940.2 1006.9,950.2 1000.2,960.2 1008.6,980.2 998.5,1000.2 990.2,1013.6 983.5,1019.6"/>
<path d="M790,896.8 830,893.5 830,951.9 843.4,966.9 861.7,981.9 900.1,990.2 923.5,1003.6 950.2,1016.9 966.8,1015.3 983.5,1020.3 990.2,1033.6 995.2,1067 985.2,1067 998.5,1103.7 1060.3,1107 1055.3,1118.7 1056.9,1133.7 1077,1148.7 1085.3,1167.1 1077,1193.8 1066.9,1215.5 1063.6,1227.1 1070.3,1250.5 1070.3,1290.5 1083.6,1293.9 1103.6,1298.9 1117,1293.9 1137,1300.5 1143.7,1313.9 1150.4,1350.6 1157,1357.3 1170.4,1357.3 1190.4,1360.6"/>
<path d="M1317.2,896.8 1323.9,880.1 1337.2,863.4 1350.6,836.7 1350.6,803.4 1363.9,793.4 1377.3,786.7 1383.9,766.7 1385.6,760"/>
<path d="M1317.2,896.8 1308.9,920.2 1303.8,946.9 1307.2,973.5 1312.2,990.2 1303.8,1000.2 1300.5,1020.3 1293.8,1043.6 1287.2,1062 1273.8,1072 1263.8,1090.3 1253.8,1093.7 1237.1,1110.4 1227.1,1130.4 1223.8,1143.7 1227.1,1163.7 1233.8,1180.4 1257.1,1192.1 1283.8,1200.4 1293.8,1207.1 1293.8,1223.8"/>
<path d="M1310.5,990.2 1320.5,980.2 1317.2,993.6 1337.2,1006.9 1347.2,1006.9 1357.2,990.2 1363.9,993.6 1367.2,1010.3 1377.3,1003.6 1390.6,1005.2"/>
<path d="M1085.3,1157.1 1103.6,1143.7 1113.7,1138.7 1127,1135.4 1143.7,1143.7 1160.4,1150.4 1170.4,1147.1 1180.4,1147.1 1187.1,1150.4 1197.1,1143.7 1207.1,1137 1205.4,1153.7 1198.7,1157.1 1210.4,1160.4 1223.8,1160.4 1227.1,1163.7"/>
<path d="M1293.8,1223.8 1310.5,1220.5 1350.6,1223.8 1353.9,1233.8 1360.6,1230.5 1363.9,1240.5 1390.6,1230.5"/>
<path d="M1293.8,1223.8 1277.2,1240.5 1263.8,1267.2 1250.5,1287.2 1230.4,1307.2 1210.4,1313.9 1197.1,1337.2 1190.4,1360.6"/>
<path d="M1230.4,1307.2 1257.1,1307.2 1283.8,1310.6 1310.5,1320.6 1327.2,1323.9 1337.2,1337.2 1343.9,1360.6"/>
<path d="M1063.6,1223.8 1033.6,1203.8 1003.5,1203.8 946.8,1213.8 930.1,1243.8 918.5,1297.2"/>
<path d="M918.5,1297.2 911.8,1290.5 875.1,1290.5 863.4,1315.6 843.4,1292.2 803.3,1283.9 790,1290.5"/>
<path d="M918.5,1297.2 963.5,1340.6 976.9,1350.6 1003.5,1360.6"/>
<path d="M1390.6,1080.3 1380.6,1080.3 1382.3,1098.7 1390.6,1098.7"/>
<path d="M1548.5,760 1551.8,776.7 1553.5,793.4 1536.8,796.7 1521.8,800 1510.1,808.4 1496.8,818.4 1473.4,828.4 1468.4,836.7 1456.7,866.8 1456.7,876.8 1460.1,915.2"/>
<path d="M1408.4,760 1405,790 1401.7,813.4 1411.7,823.4 1423.4,836.7 1438.4,840.1 1436.7,850.1 1426.7,856.8 1423.4,873.4 1435,890.1 1443.4,906.8 1460.1,915.2"/>
<path d="M1460.1,915.2 1445.1,925.2 1441.7,943.5 1448.4,953.5 1450.1,963.5 1446.7,980.2 1450.1,993.6 1448.4,1010.3 1450.1,1026.9 1456.7,1043.6 1456.7,1060.3 1453.4,1072"/>
<path d="M1390,1006.9 1400,1006.9 1416.7,1000.2 1433.4,995.2 1448.4,993.6"/>
<path d="M1453.4,1072 1466.7,1063.6 1483.4,1053.6 1500.1,1045.3 1510.1,1040.3 1523.5,1043.6 1525.1,1052 1540.2,1053.6 1550.2,1057 1566.8,1063.6 1583.5,1070.3 1596.9,1075.3 1606.9,1085.3 1620.2,1085.3 1636.9,1090.3 1650.3,1097 1653.6,1103.7 1650.3,1113.7 1638.6,1123.7 1638.6,1127 1630.2,1127 1630.2,1140.4 1643.6,1157.1 1658.6,1168.7"/>
<path d="M1636.9,1157.1 1620.2,1160.4 1613.6,1173.7 1611.9,1187.1 1616.9,1197.1 1610.2,1220.5 1603.5,1230.5 1591.9,1233.8 1588.5,1243.8 1590.2,1260.5 1613.6,1265.5 1620.2,1270.5"/>
<path d="M1590.2,1253.8 1581.9,1253.8 1575.2,1280.5 1556.8,1287.2 1530.1,1293.9 1506.8,1300.5 1490.1,1303.9 1463.4,1313.9 1443.4,1317.2 1436.7,1293.9 1436.7,1273.8 1423.4,1263.8 1413.4,1233.8 1406.7,1225.5 1390,1227.1"/>
<path d="M1390,1093.7 1400,1093.7 1423.4,1090.3 1426.7,1067 1438.4,1057 1443.4,1062 1453.4,1072"/>
<path d="M1390,1080.3 1413.4,1080.3 1413.4,1097 1390,1097"/>
<path d="M1413.4,1097 1408.4,1103.7 1413.4,1123.7 1406.7,1137 1413.4,1147.1 1413.4,1162.1 1396.7,1173.7 1390,1175.4"/>
<path d="M1450.2,619.5 1449.1,627.8 1444.6,636.7 1444.6,642.3 1442.4,650.1 1440.2,660.1 1434.6,669 1435.7,675.6 1431.3,684.5 1423.5,691.2 1420.1,700.1 1412.3,711.2 1404.6,723.5 1399,729.6 1395.7,729 1366.7,753.5 1377.9,755.2 1384.5,761.3 1382.3,766.9 1380.1,775.8 1377.9,783.5 1372.3,789.1 1366.7,795.8 1357.8,800"/>
<path d="M1366.7,753.5 1380.1,747.9 1392.3,749.6 1396.8,753.5 1405.7,758 1409,764.6 1410.7,778 1411.2,789.1 1408.5,800"/>
<path d="M1500,647.8 1495.8,654.5 1498,657.8 1495.8,684.5"/>
<path d="M1475.8,627.8 1476.9,637.8"/>
<path d="M763.9,1360 732.2,1371.7 733.9,1425.1 727.2,1435.1 737.2,1447.4 713.9,1468.4 692.2,1498.5 680.5,1526.8 685.5,1558.5 663.8,1591.9 678.8,1648.6 688.8,1653.6 688.2,1682 670.5,1713.7 670.5,1740.4 645.5,1762.1 645.5,1792.1 655.5,1822.1 637.1,1833.8 627.1,1867.2 618.8,1897.2 625.4,1933.9 613.1,1940.6 617.8,1960.6"/>
<path d="M1082,1552.9 1063.6,1613.6 1065.3,1643.6 1055.3,1653.6 1053.6,1673.6 1051.9,1688.7"/>
<path d="M1082,1552.9 1102,1550.2 1130.3,1570.2 1135.3,1581.9 1143.7,1573.5 1157,1586.9 1207.1,1623.6 1225.4,1635.3 1210.4,1650.3 1215.4,1668.6"/>
<path d="M1082,1552.9 1097,1536.8 1123.7,1510.2 1143.7,1488.5 1170.4,1466.8 1205.4,1453.4"/>
<path d="M1205.4,1453.4 1220.4,1455.1 1257.1,1463.4 1287.2,1476.8 1308.9,1495.1 1332.2,1500.1 1325.5,1513.5 1325.5,1523.5 1337.2,1523.5"/>
<path d="M1210.4,1426.7 1223.8,1430.1 1257.1,1435.1 1280.5,1440.1 1287.2,1430.1 1307.2,1420.1 1330.5,1418.4 1357.2,1416.7 1373.9,1416.7"/>
<path d="M1205.4,1453.4 1208.8,1426.7 1203.7,1416.7 1195.4,1405 1182.1,1405 1178.7,1410.1 1177.1,1435.1 1172,1440.1 1143.7,1461.8 1117,1466.8 1087,1461.8 1048.6,1453.4 1080.3,1405 1077,1391.7 1050.3,1380 1006.9,1360"/>
<path d="M1187.1,1360 1183.7,1390 1177.1,1403.4 1178.7,1410.1"/>
<path d="M1347.2,1360 1350.6,1371.7 1373.9,1376.7 1377.3,1390 1389.9,1393.4"/>
<path d="M612.9,1941.7 620.2,1980.1 635.2,1990.1 625.2,2005.1 638.6,2011.8 641.9,2023.5 628.6,2028.5 631.9,2048.5 621.9,2086.9 603.5,2118.6 608.6,2135.2 596.9,2155.3 571.8,2168.6 573.5,2203.6 586.9,2215.3 608.6,2213.6 608.6,2237 620.2,2257 703.6,2260.4 742,2267"/>
<path d="M727,2275.4 727,2347.1 777.1,2348.8"/>
<path d="M1460.1,915.2 1476.8,926.8 1490.1,931.8 1510.1,923.5 1523.5,913.5 1526.8,903.5 1525.1,886.8 1536.8,881.8 1553.5,886.8 1570.2,883.5 1590.2,873.4 1603.5,863.4"/>
<path d="M1603.5,677.2 1600.2,687.2 1606.9,707.2 1611.9,727.2"/>
<path d="M1737.7,735.3 1733.5,739.5 1722.4,746.4 1715.4,760.3 1709.8,765.9 1705.7,775.6 1697.3,778.4 1693.2,785.4 1691.8,788.1"/>
<path d="M1693.2,786.7 1700.1,789.5 1708.5,790.9 1718.2,785.4 1721,779.8 1737.7,775.6 1739,778.4 1733.5,786.7 1727.9,795.1 1736.3,799.3 1747.4,799.3 1752.9,806.2 1759.9,800.6 1762.7,795.1 1759.9,788.1 1766.9,785.4 1773.8,788.1 1794.7,786.7 1808.6,792.3"/>
<path d="M1693.2,786.7 1690.4,797.9 1689,806.2 1691.8,814.5 1695.9,817.3 1691.8,825.7 1689,828.5"/>
<path d="M1689,828.5 1697.3,831.2 1705.7,831.2 1714,828.5 1725.1,822.9 1736.3,815.9 1744.6,820.1 1737.7,825.7 1737.7,835.4 1733.5,839.6 1739,842.4 1744.6,847.9 1752.9,845.1 1761.3,836.8 1772.4,832.6 1789.1,828.5 1793.3,821.5 1805.8,820.1 1814.1,822.9"/>
<path d="M1689,828.5 1677.9,834 1673.7,828.5 1658.4,817.3 1648.7,818.7 1627.8,818.7 1625,820.1"/>
<path d="M1612,727 1611.1,736.7 1615.3,747.8 1618.1,758.9 1622.2,778.4 1625,789.5 1630.6,797.9 1633.4,800.6 1629.2,810.4 1627.8,817.3 1625,820.1"/>
<path d="M1625,820.1 1627.8,828.5 1629.2,838.2 1626.4,842.4 1619.5,847.9 1612.5,853.5 1605.6,859 1600,863.2"/>
<path d="M1600,863.2 1608.3,861.8 1618.1,866 1620.9,875.7 1623.6,884.1 1627.8,886.9 1636.2,881.3 1640.3,874.3 1648.7,871.6 1652.8,866 1658.4,859 1666.7,856.3 1675.1,860.4 1689,864.6 1697.3,867.4 1701.5,872.9 1705.7,878.5"/>
<path d="M1705.7,878.5 1715.4,872.9 1719.6,867.4 1727.9,870.2 1736.3,875.7 1746,881.3 1759.9,877.1 1773.8,870.2 1784.9,867.4 1800.2,867.4"/>
<path d="M1705.7,878.5 1709.8,884.1 1722.4,891 1739,898 1746,903.5 1752.9,911.9 1759.9,917.4"/>
<path d="M1709.8,884.1 1711.2,895.2 1718.2,903.5 1719.6,911.9 1719.6,923 1708.5,925.8 1705.7,931.3 1708.5,939.7 1714,945.3 1719.6,950.8 1727.9,950.8 1732.1,945.3"/>
<path d="M1390,1175 1370,1174 1349.2,1173.9 1313.6,1189.4 1295.8,1205"/>
<path d="M950.2,233.4 973.5,230.7 975.2,256.8 941.8,259.4 952.8,247.4Z"/>
<path d="M1283.8,1548.5 1290.5,1556.9 1300.5,1555.2 1307.2,1560.2 1293.8,1586.9 1283.8,1593.6 1263.8,1606.9 1258.8,1613.6 1260.5,1603.6 1277.2,1580.2 1283.8,1566.9Z"/>
<path d="M966.7,2250.7 1004.1,2231.6 1031.2,2239.6 1050.8,2226.7 1076.1,2241.4 1066.3,2252.9 1023.6,2261.8 1009,2250.7 981.8,2265.4Z"/>
</g>
</g>
<g stroke="#000" stroke-opacity="0.02" stroke-width="2"><line x1="359.3" y1="168" x2="359.3" y2="2383"/><line x1="681.3" y1="168" x2="681.3" y2="2383"/><line x1="1003.3" y1="168" x2="1003.3" y2="2383"/><line x1="1325.3" y1="168" x2="1325.3" y2="2383"/><line x1="1647.3" y1="168" x2="1647.3" y2="2383"/><line x1="198" y1="260.0" x2="1969" y2="260.0"/><line x1="198" y1="582.0" x2="1969" y2="582.0"/><line x1="198" y1="904.0" x2="1969" y2="904.0"/><line x1="198" y1="1226.0" x2="1969" y2="1226.0"/><line x1="198" y1="1548.0" x2="1969" y2="1548.0"/><line x1="198" y1="1870.0" x2="1969" y2="1870.0"/><line x1="198" y1="2192.0" x2="1969" y2="2192.0"/></g>
<rect x="198.3" y="168.25" width="1771.15" height="2215.2" fill="none" stroke="#000" stroke-width="3"/>
<rect x="2010.5" y="2202.91" width="48.0" height="24.69" fill="#573205"/>
<rect x="2010.5" y="2178.81" width="48.0" height="24.69" fill="#5e3606"/>
<rect x="2010.5" y="2154.72" width="48.0" height="24.69" fill="#663a07"/>
<rect x="2010.5" y="2130.62" width="48.0" height="24.69" fill="#6c3e07"/>
<rect x="2010.5" y="2106.53" width="48.0" height="24.69" fill="#734308"/>
<rect x="2010.5" y="2082.43" width="48.0" height="24.69" fill="#7a4708"/>
<rect x="2010.5" y="2058.34" width="48.0" height="24.69" fill="#824b09"/>
<rect x="2010.5" y="2034.24" width="48.0" height="24.69" fill="#884f0a"/>
<rect x="2010.5" y="2010.15" width="48.0" height="24.69" fill="#8f540c"/>
<rect x="2010.5" y="1986.05" width="48.0" height="24.69" fill="#965a11"/>
<rect x="2010.5" y="1961.96" width="48.0" height="24.69" fill="#9c6015"/>
<rect x="2010.5" y="1937.86" width="48.0" height="24.69" fill="#a26619"/>
<rect x="2010.5" y="1913.77" width="48.0" height="24.69" fill="#a96c1e"/>
<rect x="2010.5" y="1889.67" width="48.0" height="24.69" fill="#af7222"/>
<rect x="2010.5" y="1865.58" width="48.0" height="24.69" fill="#b57826"/>
<rect x="2010.5" y="1841.48" width="48.0" height="24.69" fill="#bc7e2b"/>
<rect x="2010.5" y="1817.39" width="48.0" height="24.69" fill="#c18532"/>
<rect x="2010.5" y="1793.29" width="48.0" height="24.69" fill="#c58d3c"/>
<rect x="2010.5" y="1769.20" width="48.0" height="24.69" fill="#c99546"/>
<rect x="2010.5" y="1745.10" width="48.0" height="24.69" fill="#cd9d50"/>
<rect x="2010.5" y="1721.01" width="48.0" height="24.69" fill="#d2a75c"/>
<rect x="2010.5" y="1696.91" width="48.0" height="24.69" fill="#d7b26a"/>
<rect x="2010.5" y="1672.82" width="48.0" height="24.69" fill="#dcbd77"/>
<rect x="2010.5" y="1648.72" width="48.0" height="24.69" fill="#e1c583"/>
<rect x="2010.5" y="1624.63" width="48.0" height="24.69" fill="#e4cb8e"/>
<rect x="2010.5" y="1600.53" width="48.0" height="24.69" fill="#e8d198"/>
<rect x="2010.5" y="1576.44" width="48.0" height="24.69" fill="#ebd6a2"/>
<rect x="2010.5" y="1552.34" width="48.0" height="24.69" fill="#eedcac"/>
<rect x="2010.5" y="1528.25" width="48.0" height="24.69" fill="#f2e1b5"/>
<rect x="2010.5" y="1504.15" width="48.0" height="24.69" fill="#f5e6bf"/>
<rect x="2010.5" y="1480.06" width="48.0" height="24.69" fill="#f6e9c6"/>
<rect x="2010.5" y="1455.96" width="48.0" height="24.69" fill="#f6ebd0"/>
<rect x="2010.5" y="1431.87" width="48.0" height="24.69" fill="#f6eed9"/>
<rect x="2010.5" y="1407.77" width="48.0" height="24.69" fill="#f6efe0"/>
<rect x="2010.5" y="1383.68" width="48.0" height="24.69" fill="#f5f1e7"/>
<rect x="2010.5" y="1359.58" width="48.0" height="24.69" fill="#f5f2ec"/>
<rect x="2010.5" y="1335.49" width="48.0" height="24.69" fill="#f6f7f7"/>
<rect x="2010.5" y="1311.39" width="48.0" height="24.69" fill="#f8f9f9"/>
<rect x="2010.5" y="1287.30" width="48.0" height="24.69" fill="#f9fafa"/>
<rect x="2010.5" y="1263.20" width="48.0" height="24.69" fill="#ffffff"/>
<rect x="2010.5" y="1239.11" width="48.0" height="24.69" fill="#fbfcfc"/>
<rect x="2010.5" y="1215.01" width="48.0" height="24.69" fill="#f9fafa"/>
<rect x="2010.5" y="1190.92" width="48.0" height="24.69" fill="#f8f9f9"/>
<rect x="2010.5" y="1166.82" width="48.0" height="24.69" fill="#f6f7f7"/>
<rect x="2010.5" y="1142.73" width="48.0" height="24.69" fill="#ecf3f2"/>
<rect x="2010.5" y="1118.63" width="48.0" height="24.69" fill="#e8f2f0"/>
<rect x="2010.5" y="1094.54" width="48.0" height="24.69" fill="#e2f0ef"/>
<rect x="2010.5" y="1070.44" width="48.0" height="24.69" fill="#dbefec"/>
<rect x="2010.5" y="1046.35" width="48.0" height="24.69" fill="#d3ede9"/>
<rect x="2010.5" y="1022.25" width="48.0" height="24.69" fill="#caebe6"/>
<rect x="2010.5" y="998.16" width="48.0" height="24.69" fill="#c3e8e3"/>
<rect x="2010.5" y="974.06" width="48.0" height="24.69" fill="#b9e4de"/>
<rect x="2010.5" y="949.97" width="48.0" height="24.69" fill="#b0e0d9"/>
<rect x="2010.5" y="925.87" width="48.0" height="24.69" fill="#a6dcd4"/>
<rect x="2010.5" y="901.78" width="48.0" height="24.69" fill="#9bd8cf"/>
<rect x="2010.5" y="877.68" width="48.0" height="24.69" fill="#91d4ca"/>
<rect x="2010.5" y="853.59" width="48.0" height="24.69" fill="#86cfc4"/>
<rect x="2010.5" y="829.49" width="48.0" height="24.69" fill="#7ac9bd"/>
<rect x="2010.5" y="805.40" width="48.0" height="24.69" fill="#6ec0b5"/>
<rect x="2010.5" y="781.30" width="48.0" height="24.69" fill="#61b7ac"/>
<rect x="2010.5" y="757.21" width="48.0" height="24.69" fill="#56afa5"/>
<rect x="2010.5" y="733.11" width="48.0" height="24.69" fill="#4ca89f"/>
<rect x="2010.5" y="709.02" width="48.0" height="24.69" fill="#43a198"/>
<rect x="2010.5" y="684.92" width="48.0" height="24.69" fill="#3a9a92"/>
<rect x="2010.5" y="660.83" width="48.0" height="24.69" fill="#32948c"/>
<rect x="2010.5" y="636.73" width="48.0" height="24.69" fill="#2b8e86"/>
<rect x="2010.5" y="612.64" width="48.0" height="24.69" fill="#258880"/>
<rect x="2010.5" y="588.54" width="48.0" height="24.69" fill="#1e827a"/>
<rect x="2010.5" y="564.45" width="48.0" height="24.69" fill="#187b73"/>
<rect x="2010.5" y="540.35" width="48.0" height="24.69" fill="#11756d"/>
<rect x="2010.5" y="516.26" width="48.0" height="24.69" fill="#0b6f67"/>
<rect x="2010.5" y="492.16" width="48.0" height="24.69" fill="#046961"/>
<rect x="2010.5" y="468.07" width="48.0" height="24.69" fill="#01635b"/>
<rect x="2010.5" y="443.97" width="48.0" height="24.69" fill="#015e55"/>
<rect x="2010.5" y="419.88" width="48.0" height="24.69" fill="#015950"/>
<rect x="2010.5" y="395.78" width="48.0" height="24.69" fill="#01544a"/>
<rect x="2010.5" y="371.69" width="48.0" height="24.69" fill="#004e44"/>
<rect x="2010.5" y="347.59" width="48.0" height="24.69" fill="#00493e"/>
<rect x="2010.5" y="323.50" width="48.0" height="24.69" fill="#004439"/>
<path d="M2010.5,323.5 L2034.5,228.5 L2058.5,323.5Z" fill="#003c30"/>
<path d="M2010.5,2227.0 L2034.5,2321.5 L2058.5,2227.0Z" fill="#543005"/>
<path d="M2010.5,323.5 L2034.5,228.5 L2058.5,323.5 L2058.5,2227.0 L2034.5,2321.5 L2010.5,2227.0Z" fill="none" stroke="#000" stroke-width="3"/>
<line x1="2058.5" y1="325.0" x2="2072.5" y2="325.0" stroke="#000" stroke-width="3"/>
<line x1="2058.5" y1="541.0" x2="2072.5" y2="541.0" stroke="#000" stroke-width="3"/>
<line x1="2058.5" y1="782.5" x2="2072.5" y2="782.5" stroke="#000" stroke-width="3"/>
<line x1="2058.5" y1="1023.1" x2="2072.5" y2="1023.1" stroke="#000" stroke-width="3"/>
<line x1="2058.5" y1="1263.8" x2="2072.5" y2="1263.8" stroke="#000" stroke-width="3"/>
<line x1="2058.5" y1="1503.6" x2="2072.5" y2="1503.6" stroke="#000" stroke-width="3"/>
<line x1="2058.5" y1="1745.5" x2="2072.5" y2="1745.5" stroke="#000" stroke-width="3"/>
<line x1="2058.5" y1="1986.2" x2="2072.5" y2="1986.2" stroke="#000" stroke-width="3"/>
<line x1="2058.5" y1="2226.7" x2="2072.5" y2="2226.7" stroke="#000" stroke-width="3"/>
<path d="M1759.36,2250.54 C1759.36,2250.54 1759.98,2262.37 1761.20,2267.67 C1762.42,2272.97 1764.16,2277.66 1766.71,2282.35 C1769.26,2287.04 1772.82,2291.73 1776.49,2295.81 C1780.17,2299.89 1783.84,2303.46 1788.73,2306.82 C1793.62,2310.19 1799.33,2313.66 1805.86,2316.00 C1812.39,2318.35 1820.54,2320.39 1827.88,2320.90 C1835.22,2321.41 1842.77,2320.69 1849.91,2319.06 C1857.04,2317.43 1864.18,2314.78 1870.71,2311.11 C1877.23,2307.44 1883.76,2302.64 1889.06,2297.04 C1894.36,2291.43 1898.85,2283.99 1902.52,2277.46 C1906.19,2270.93 1909.04,2264.00 1911.08,2257.88 C1913.12,2251.77 1914.75,2240.75 1914.75,2240.75 C1914.75,2240.75 1915.37,2226.68 1915.37,2226.68 C1915.37,2226.68 1923.93,2226.68 1923.93,2226.68 C1923.93,2226.68 1899.46,2202.21 1899.46,2202.21 C1899.46,2202.21 1873.77,2226.68 1873.77,2226.68 C1873.77,2226.68 1881.11,2224.34 1882.33,2226.68 C1883.55,2229.03 1882.02,2235.76 1881.11,2240.75 C1880.19,2245.75 1878.97,2251.36 1876.82,2256.66 C1874.68,2261.96 1871.73,2267.88 1868.26,2272.57 C1864.79,2277.26 1860.71,2281.23 1856.02,2284.80 C1851.33,2288.37 1845.62,2291.63 1840.12,2293.98 C1834.61,2296.32 1828.70,2298.26 1822.99,2298.87 C1817.28,2299.48 1811.37,2298.97 1805.86,2297.65 C1800.35,2296.32 1794.85,2293.67 1789.95,2290.92 C1785.06,2288.17 1780.37,2284.60 1776.49,2281.13 C1772.62,2277.66 1769.26,2273.59 1766.71,2270.12 C1764.16,2266.65 1761.20,2260.33 1761.20,2260.33 C1761.20,2260.33 1759.36,2250.54 1759.36,2250.54Z" fill="#0f70b7"/>
<path d="M1761.20,2262.78 C1761.20,2262.78 1759.36,2251.36 1759.36,2245.65 C1759.36,2239.94 1759.57,2234.02 1761.20,2228.52 C1762.83,2223.01 1765.58,2217.51 1769.15,2212.61 C1772.72,2207.72 1777.72,2202.62 1782.61,2199.15 C1787.51,2195.69 1793.22,2193.44 1798.52,2191.81 C1803.82,2190.18 1809.33,2189.47 1814.42,2189.36 C1819.52,2189.26 1824.62,2189.98 1829.11,2191.20 C1833.59,2192.42 1837.98,2194.36 1841.34,2196.71 C1844.71,2199.05 1847.22,2202.01 1849.30,2205.27 C1851.38,2208.53 1852.86,2212.41 1853.82,2216.28 C1854.78,2220.16 1854.84,2225.09 1855.05,2228.52 C1855.25,2231.94 1855.05,2236.84 1855.05,2236.84 C1855.05,2236.84 1862.75,2236.84 1862.75,2236.84 C1862.75,2236.84 1837.06,2258.86 1837.06,2258.86 C1837.06,2258.86 1815.65,2236.84 1815.65,2236.84 C1815.65,2236.84 1824.21,2236.84 1824.21,2236.84 C1824.21,2236.84 1824.58,2232.15 1823.97,2229.74 C1823.36,2227.34 1822.34,2224.54 1820.54,2222.40 C1818.75,2220.26 1816.26,2218.16 1813.20,2216.89 C1810.14,2215.63 1805.86,2214.92 1802.19,2214.81 C1798.52,2214.71 1794.85,2215.12 1791.18,2216.28 C1787.51,2217.45 1783.43,2219.34 1780.17,2221.79 C1776.90,2224.24 1774.05,2227.40 1771.60,2230.97 C1769.15,2234.53 1767.01,2239.12 1765.48,2243.20 C1763.95,2247.28 1763.14,2252.17 1762.42,2255.44 C1761.71,2258.70 1761.20,2262.78 1761.20,2262.78Z" fill="none" stroke="#0f70b7" stroke-width="1.6" stroke-linejoin="round"/>
<circle cx="1836.8" cy="2278.4" r="17" fill="#f29100"/>
<text x="1769.4" y="2266.0" class="inpe" textLength="50.5" lengthAdjust="spacingAndGlyphs">INPE</text>
</svg></body></html>
